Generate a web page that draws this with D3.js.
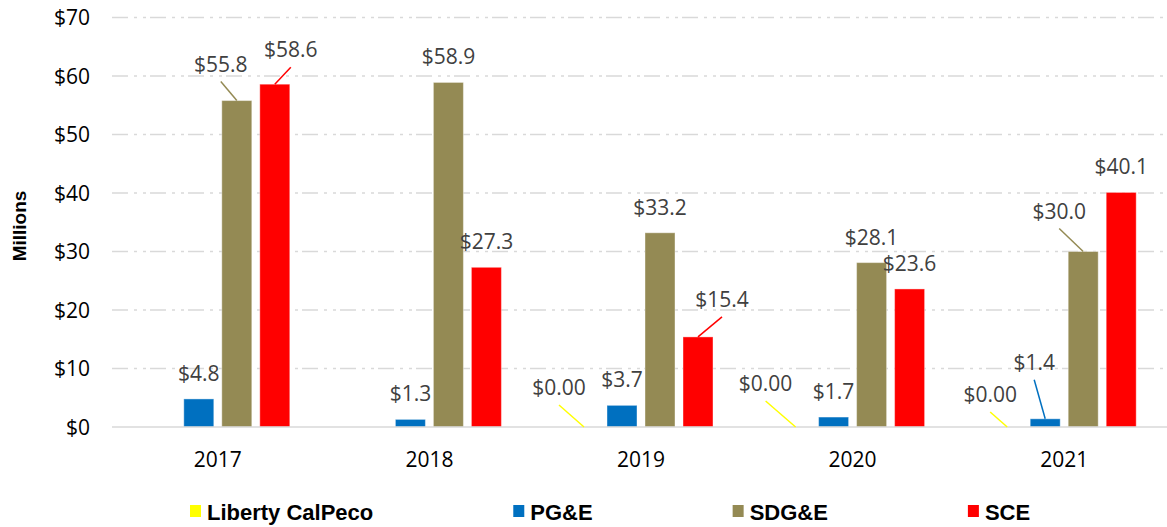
<!DOCTYPE html>
<html>
<head>
<meta charset="utf-8">
<script src="https://cdn.jsdelivr.net/npm/d3@7"></script>
<style>
  body { margin: 0; background: #fff; }
  svg { display: block; }
  .tick-label, .data-label, .year-label { font-family: "Open Sans", sans-serif; font-size: 21px; }
  .legend text, .axis-title { font-family: "Liberation Sans", Arial, sans-serif; font-weight: bold; }
</style>
</head>
<body>
<svg></svg>
<script>
// ---- data ----
const years = ['2017', '2018', '2019', '2020', '2021'];
const seriesNames = ['Liberty CalPeco', 'PG&E', 'SDG&E', 'SCE'];
const libertyValues = [null, null, 0, 0, 0];
const pgeValues = [4.8, 1.3, 3.7, 1.7, 1.4];
const sdgeValues = [55.8, 58.9, 33.2, 28.1, 30.0];
const sceValues = [58.6, 27.3, 15.4, 23.6, 40.1];
const yTicks = [0, 10, 20, 30, 40, 50, 60, 70];

const colors = ['#FFFF00', '#0070C0', '#948A54', '#FF0000'];
const decimals = [2, 1, 1, 1];

// labels that excel moved off the bar top (drawn with a leader line)
const labelNudges = [
  {s: 'SDG&E', y: '2017', dx: -16, dy: -11},
  {s: 'SCE', y: '2017', dx: 16, dy: -9},
  {s: 'Liberty CalPeco', y: '2019', dx: -25, dy: -14},
  {s: 'SCE', y: '2019', dx: 24, dy: -12},
  {s: 'Liberty CalPeco', y: '2020', dx: -30, dy: -18},
  {s: 'Liberty CalPeco', y: '2021', dx: -17, dy: -7},
  {s: 'PG&E', y: '2021', dx: -11, dy: -31},
  {s: 'SDG&E', y: '2021', dx: -24, dy: -15}
];

const size = {w: 1167, h: 527};
const plot = {l: 112, r: 1170, t: 17.5, b: 427};

const svg = d3.select('svg')
  .attr('width', size.w)
  .attr('height', size.h);

// build rows: one per series
const allValues = [libertyValues, pgeValues, sdgeValues, sceValues];
const rows = [];
seriesNames.forEach((s, i) => {
  years.forEach((yr, j) => {
    if (allValues[i][j] === null) return;
    const n = labelNudges.find(d => d.s === s && d.y === yr);
    rows.push({series: s, year: yr, value: allValues[i][j], idx: i,
      dx: n ? n.dx : 0, dy: n ? n.dy : 0, moved: !!n});
  });
});

// scales
const x0 = d3.scaleBand().domain(years).range([plot.l, plot.r]);
const x1 = d3.scaleBand().domain(seriesNames).range([-76, 76])
  .paddingInner(8 / 38).paddingOuter(4 / 38);
const y = d3.scaleLinear().domain([0, 70]).range([plot.b, plot.t]);

// gridlines
svg.append('g').selectAll('line')
  .data(yTicks.filter(t => t > 0))
  .join('line')
  .attr('x1', plot.l).attr('x2', size.w)
  .attr('y1', d => y(d)).attr('y2', d => y(d))
  .attr('stroke', '#d9d9d9')
  .attr('stroke-width', 1.5)
  .attr('stroke-dasharray', '16,6,3,6,3,4');

// y tick labels
svg.append('g').selectAll('text')
  .data(yTicks)
  .join('text')
  .attr('class', 'tick-label')
  .attr('x', 90)
  .attr('y', d => y(d))
  .attr('dy', '0.36em')
  .attr('text-anchor', 'end')
  .attr('fill', '#000')
  .text(d => '$' + d);

// bars
const cx = d => x0(d.year) + x0.bandwidth() / 2 + x1(d.series);
svg.append('g').selectAll('rect')
  .data(rows)
  .join('rect')
  .attr('x', d => cx(d))
  .attr('y', d => y(d.value))
  .attr('width', x1.bandwidth())
  .attr('height', d => y(0) - y(d.value))
  .attr('fill', d => colors[d.idx])
  .attr('stroke', '#fff')
  .attr('stroke-opacity', 0.4)
  .attr('stroke-width', 1);

// baseline
svg.append('line')
  .attr('x1', plot.l).attr('x2', size.w)
  .attr('y1', y(0)).attr('y2', y(0))
  .attr('stroke', '#d9d9d9')
  .attr('stroke-width', 1.5);

// data labels + leader lines
const midX = d => cx(d) + x1.bandwidth() / 2;
const labX = d => midX(d) + d.dx;
const labY = d => y(d.value) - 18 + d.dy;

svg.append('g').selectAll('line')
  .data(rows.filter(d => d.moved))
  .join('line')
  .attr('x1', d => labX(d)).attr('y1', d => labY(d) + 10)
  .attr('x2', d => midX(d)).attr('y2', d => y(d.value))
  .attr('stroke', d => colors[d.idx])
  .attr('stroke-width', 1.5);

svg.append('g').selectAll('text')
  .data(rows)
  .join('text')
  .attr('class', 'data-label')
  .attr('x', d => labX(d))
  .attr('y', d => labY(d))
  .attr('text-anchor', 'middle')
  .attr('fill', '#404040')
  .text(d => '$' + d.value.toFixed(decimals[d.idx]));

// year labels
svg.append('g').selectAll('text')
  .data(years)
  .join('text')
  .attr('class', 'year-label')
  .attr('x', d => x0(d) + x0.bandwidth() / 2)
  .attr('y', 467)
  .attr('text-anchor', 'middle')
  .attr('fill', '#000')
  .text(d => d);

// axis title
svg.append('text')
  .attr('class', 'axis-title')
  .attr('transform', 'translate(26, 226) rotate(-90)')
  .attr('text-anchor', 'middle')
  .attr('font-size', 19)
  .attr('fill', '#000')
  .text('Millions');

// legend
const legend = svg.append('g').attr('class', 'legend');
let lx = 190;
seriesNames.forEach((s, i) => {
  const g = legend.append('g').attr('transform', `translate(${lx}, 0)`);
  g.append('rect')
    .attr('x', 0).attr('y', 505)
    .attr('width', 11).attr('height', 12)
    .attr('fill', colors[i]);
  const t = g.append('text')
    .attr('x', 17).attr('y', 520)
    .attr('font-size', 22)
    .attr('fill', '#000')
    .text(s);
  lx += 17 + t.node().getComputedTextLength() + 140;
});
</script>
</body>
</html>
